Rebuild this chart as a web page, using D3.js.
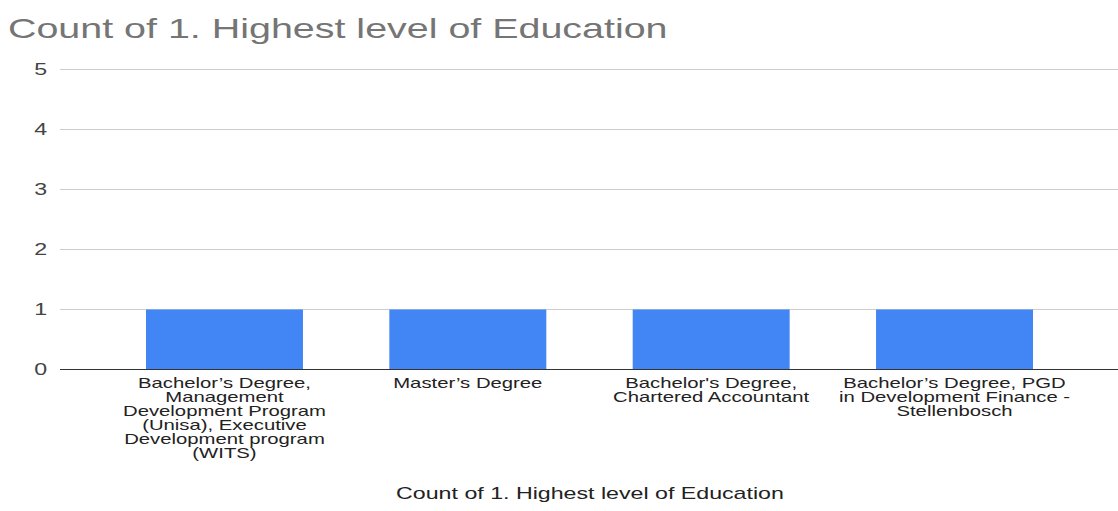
<!DOCTYPE html>
<html>
<head>
<meta charset="utf-8">
<script src="https://cdn.jsdelivr.net/npm/d3@7"></script>
<style>
  html, body { margin: 0; padding: 0; background: #ffffff; }
  svg { display: block; }
  text { font-family: "Liberation Sans", Arial, sans-serif; }
</style>
</head>
<body>
<div id="chart"></div>
<script>
// Chart data
const chartTitle = "Count of 1. Highest level of Education";
const axisTitle = "Count of 1. Highest level of Education";
const categories = [
  "Bachelor’s Degree, Management Development Program (Unisa), Executive Development program (WITS)",
  "Master’s Degree",
  "Bachelor's Degree, Chartered Accountant",
  "Bachelor’s Degree, PGD in Development Finance - Stellenbosch"
];
const counts = [1, 1, 1, 1];
const yTicks = [0, 1, 2, 3, 4, 5];

// The drawing is laid out in a narrower coordinate space and stretched
// horizontally to the page width.
const W = 1118, H = 511;
const stretch = 1.45;
const VW = W / stretch;

const svg = d3.select("#chart").append("svg")
  .attr("width", W).attr("height", H)
  .attr("viewBox", `0 0 ${VW} ${H}`)
  .attr("preserveAspectRatio", "none");

const x = d3.scaleBand()
  .domain(categories)
  .range([102.8 / stretch, 1076.2 / stretch])
  .paddingInner(0.355)
  .paddingOuter(0.1775);

const y = d3.scaleLinear().domain([0, 5]).range([369.5, 69.5]);

// Title
svg.append("text")
  .attr("x", 5.5).attr("y", 38)
  .attr("font-size", 27.2)
  .attr("fill", "#757575")
  .text(chartTitle);

// Gridlines
const gridLeft = 60 / stretch;
svg.append("g").selectAll("line")
  .data(yTicks.filter(d => d !== 0))
  .join("line")
  .attr("x1", gridLeft).attr("x2", VW)
  .attr("y1", d => y(d)).attr("y2", d => y(d))
  .attr("stroke", "#cccccc").attr("stroke-width", 1);

// Y axis labels
const yAxis = d3.axisLeft(y).tickValues(yTicks).tickFormat(d3.format("d"))
  .tickSize(0).tickPadding(0);
const gy = svg.append("g").attr("transform", `translate(${32.6},0)`).call(yAxis);
gy.select(".domain").remove();
gy.selectAll("text")
  .attr("font-size", 16)
  .attr("fill", "#444444")
  .attr("font-family", "'Liberation Sans', Arial, sans-serif");

// Bars
svg.append("g").selectAll("rect")
  .data(categories.map((c, i) => ({ c, v: counts[i] })))
  .join("rect")
  .attr("x", d => x(d.c))
  .attr("width", x.bandwidth())
  .attr("y", d => y(d.v))
  .attr("height", d => y(0) - y(d.v))
  .attr("fill", "#4285f4");

// Baseline
svg.append("line")
  .attr("x1", gridLeft).attr("x2", VW)
  .attr("y1", y(0)).attr("y2", y(0))
  .attr("stroke", "#333333").attr("stroke-width", 1.2);

// Category labels, word-wrapped
const maxLabelWidth = 161;
const lineHeight = 14;
const gx = svg.append("g");
categories.forEach(c => {
  const t = gx.append("text")
    .attr("text-anchor", "middle")
    .attr("font-size", 14)
    .attr("fill", "#222222");
  const cx = x(c) + x.bandwidth() / 2;
  const words = c.split(" ");
  let lines = [], line = [];
  const probe = t.append("tspan");
  words.forEach(w => {
    const trial = line.concat([w]).join(" ");
    probe.text(trial);
    if (line.length && probe.node().getComputedTextLength() > maxLabelWidth) {
      lines.push(line.join(" "));
      line = [w];
    } else {
      line.push(w);
    }
  });
  lines.push(line.join(" "));
  probe.remove();
  lines.forEach((l, i) => {
    t.append("tspan").attr("x", cx).attr("y", 388 + i * lineHeight).text(l);
  });
});

// Axis title
svg.append("text")
  .attr("x", 590 / stretch).attr("y", 499)
  .attr("text-anchor", "middle")
  .attr("font-size", 16)
  .attr("fill", "#222222")
  .text(axisTitle);
</script>
</body>
</html>
